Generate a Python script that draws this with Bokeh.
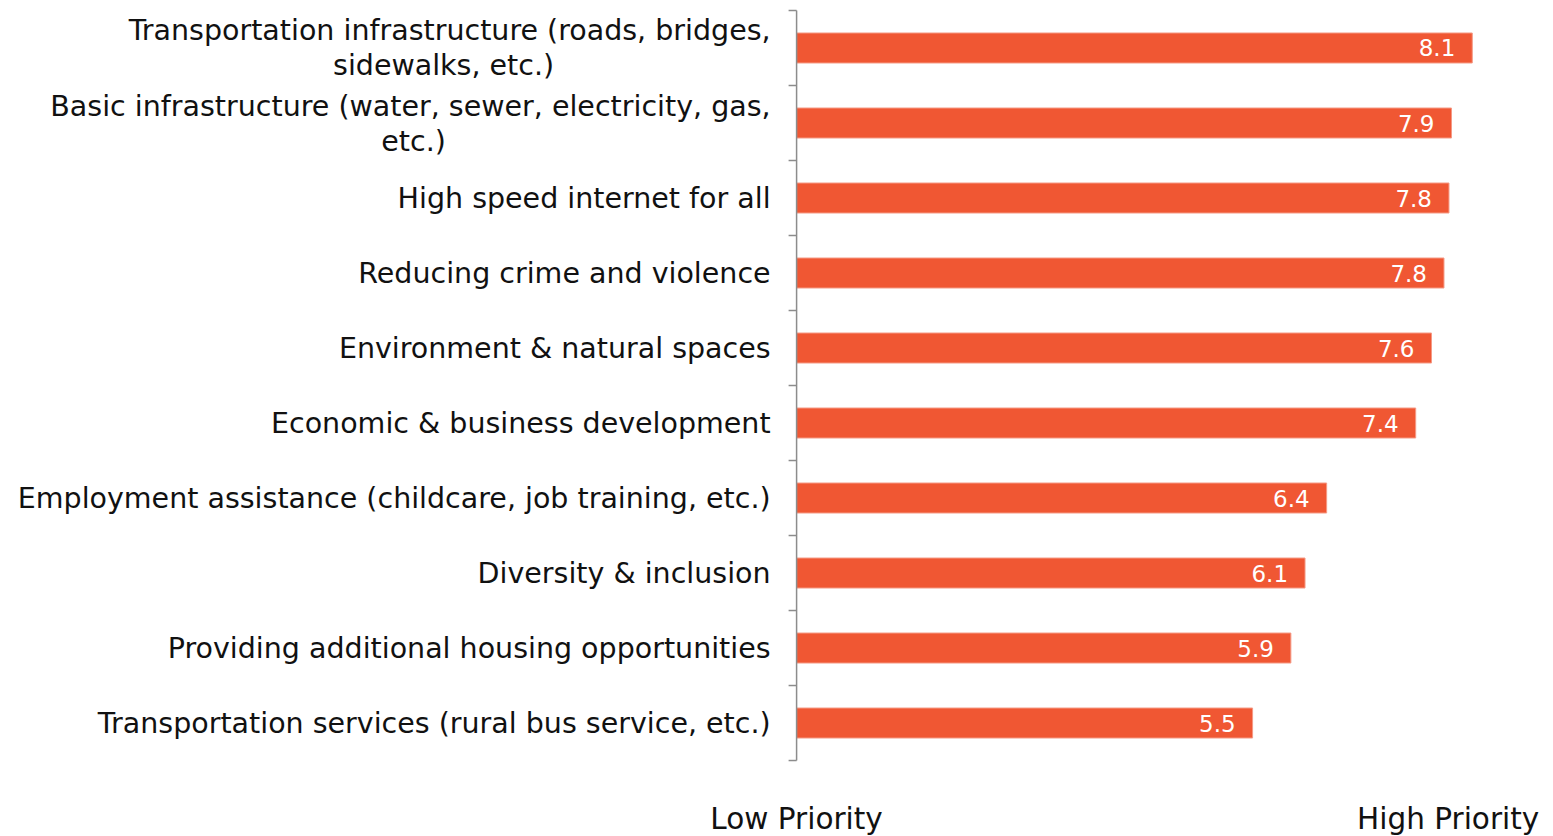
from bokeh.plotting import figure
from bokeh.models import Range1d, ColumnDataSource
from bokeh.core.properties import value
from bokeh.embed import file_html
from bokeh.resources import INLINE

categories = [
    "Transportation infrastructure (roads, bridges,\nsidewalks, etc.)",
    "Basic infrastructure (water, sewer, electricity, gas,\netc.)",
    "High speed internet for all",
    "Reducing crime and violence",
    "Environment & natural spaces",
    "Economic & business development",
    "Employment assistance (childcare, job training, etc.)",
    "Diversity & inclusion",
    "Providing additional housing opportunities",
    "Transportation services (rural bus service, etc.)",
]
scores = [8.12, 7.87, 7.84, 7.78, 7.63, 7.44, 6.37, 6.11, 5.94, 5.48]
priority_labels = ["Low Priority", "High Priority"]
priority_positions = [0.0, 7.83]

n = len(categories)
ypos = [i + 0.5 for i in range(n)]
bounds = list(range(n + 1))
src = ColumnDataSource(dict(y=ypos, score=scores,
                            lab=[f"{v:.1f}" for v in scores]))

LABEL_FONT = "DejaVu Sans"
LABEL_SIZE = "28.5px"
TEXT_COLOR = "#111111"
AXIS_COLOR = "#8c8c8c"
BAR = "#F05733"
# horizontal centre (px left of axis) of the second line of wrapped labels
LINE2_CENTRE = [-353, -383]

p = figure(width=1545, height=836, output_backend="svg", toolbar_location=None,
           x_range=Range1d(-9.567, 9.0), y_range=Range1d(11.013, -0.1333),
           x_axis_location=None, y_axis_location=None,
           min_border=0)
p.outline_line_color = None
p.grid.grid_line_color = None
p.background_fill_color = "white"

p.hbar(y="y", left=0, right="score", height=0.4, source=src,
       fill_color=BAR, line_color="#F59A85", line_width=1)
p.text(x="score", y="y", text="lab", source=src, x_offset=-17,
       text_align="right", text_baseline="middle", text_color="white",
       text_font=value(LABEL_FONT), text_font_size="23px")

# category axis: vertical line with ticks at the category boundaries
p.segment(x0=[0], y0=[0], x1=[0], y1=[n], line_color=AXIS_COLOR, line_width=1.5)
p.ray(x=[0] * len(bounds), y=bounds, length=8, length_units="screen",
      angle=180, angle_units="deg", line_color=AXIS_COLOR, line_width=1.5)

# category labels
single = dict(x=[], y=[], t=[])
l1 = dict(x=[], y=[], t=[])
l2 = dict(x=[], y=[], t=[], off=[])
k = 0
for y, c in zip(ypos, categories):
    if "\n" in c:
        a, b = c.split("\n")
        l1["x"].append(0); l1["y"].append(y); l1["t"].append(a)
        l2["x"].append(0); l2["y"].append(y); l2["t"].append(b); l2["off"].append(LINE2_CENTRE[k])
        k += 1
    else:
        single["x"].append(0); single["y"].append(y); single["t"].append(c)

common = dict(text_font=value(LABEL_FONT), text_font_size=LABEL_SIZE,
              text_color=TEXT_COLOR, text_baseline="middle")
p.text(x="x", y="y", text="t", source=ColumnDataSource(single),
       x_offset=-26, text_align="right", **common)
p.text(x="x", y="y", text="t", source=ColumnDataSource(l1),
       x_offset=-26, y_offset=-17, text_align="right", **common)
p.text(x="x", y="y", text="t", source=ColumnDataSource(l2),
       x_offset="off", y_offset=18, text_align="center", **common)

# bottom priority labels
p.text(x=priority_positions, y=[n] * len(priority_positions), text=priority_labels,
       y_offset=58, text_align="center", text_baseline="middle",
       text_font=value(LABEL_FONT), text_font_size="29.5px", text_color=TEXT_COLOR)

open("out.html", "w").write(file_html(p, INLINE))
